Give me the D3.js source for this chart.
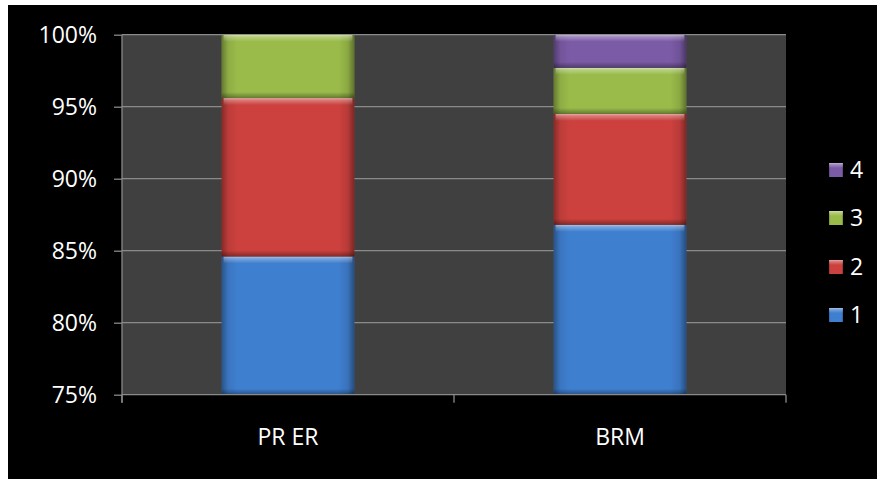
<!DOCTYPE html>
<html>
<head>
<meta charset="utf-8">
<script src="https://cdn.jsdelivr.net/npm/d3@7"></script>
<style>
html,body{margin:0;padding:0;background:#fff;}
svg{display:block;}
text{font-family:"Open Sans","DejaVu Sans",sans-serif;fill:#fff;}
</style>
</head>
<body>
<svg id="chart" width="877" height="479"></svg>
<script>
const categories = ["PR ER", "BRM"];
const seriesNames = ["1", "2", "3", "4"];
const series1 = [0.846, 0.868];
const series2 = [0.110, 0.077];
const series3 = [0.044, 0.032];
const series4 = [0.000, 0.023];
const yTicks = [0.75, 0.80, 0.85, 0.90, 0.95, 1.00];
const colors = ["#3f7fd0", "#cc413e", "#9abb4a", "#7b5ba6"];

const svg = d3.select("#chart");
const W = 877, H = 479;
svg.append("rect").attr("x", 0).attr("y", 0).attr("width", W).attr("height", H).attr("fill", "#fff");
svg.append("rect").attr("x", 8).attr("y", 5).attr("width", W - 8).attr("height", H - 5).attr("fill", "#000");

const plot = {left: 122, right: 786, top: 34.7, bottom: 394.7};

const x = d3.scaleBand().domain(categories).range([plot.left, plot.right]).paddingInner(0.6).paddingOuter(0.3);
const y = d3.scaleLinear().domain([0.75, 1.0]).range([plot.bottom, plot.top]);

const rows = categories.map((c, i) => ({cat: c, "1": series1[i], "2": series2[i], "3": series3[i], "4": series4[i]}));
const stacked = d3.stack().keys(seriesNames)(rows);

const defs = svg.append("defs");
defs.append("clipPath").attr("id", "plotclip").append("rect")
  .attr("x", plot.left).attr("y", plot.top).attr("width", plot.right - plot.left).attr("height", plot.bottom - plot.top);

const hg = defs.append("linearGradient").attr("id", "hshade").attr("x1", "0").attr("x2", "1").attr("y1", "0").attr("y2", "0");
[[0, 0.35], [0.05, 0.08], [0.12, 0], [0.88, 0], [0.95, 0.1], [1, 0.4]].forEach(([o, a]) =>
  hg.append("stop").attr("offset", o).attr("stop-color", "#000").attr("stop-opacity", a));
const tg = defs.append("linearGradient").attr("id", "tshade").attr("x1", "0").attr("x2", "0").attr("y1", "0").attr("y2", "1");
[[0, 0.55], [0.3, 0.3], [1, 0]].forEach(([o, a]) =>
  tg.append("stop").attr("offset", o).attr("stop-color", "#fff").attr("stop-opacity", a));
const bg = defs.append("linearGradient").attr("id", "bshade").attr("x1", "0").attr("x2", "0").attr("y1", "0").attr("y2", "1");
[[0, 0], [1, 0.35]].forEach(([o, a]) =>
  bg.append("stop").attr("offset", o).attr("stop-color", "#000").attr("stop-opacity", a));

svg.append("rect").attr("x", plot.left).attr("y", plot.top).attr("width", plot.right - plot.left).attr("height", plot.bottom - plot.top).attr("fill", "#404040");

svg.append("g").selectAll("line").data(yTicks.filter(t => t > 0.75)).join("line")
  .attr("x1", plot.left).attr("x2", plot.right)
  .attr("y1", d => y(d)).attr("y2", d => y(d))
  .attr("stroke", "#8a8a8a").attr("stroke-width", 1.3);

const barsG = svg.append("g").attr("clip-path", "url(#plotclip)");
stacked.forEach((s, si) => {
  const g = barsG.append("g");
  s.forEach(d => {
    const y0 = y(Math.max(d[0], 0.75)), y1 = y(d[1]);
    const h = y0 - y1;
    if (h <= 0.01) return;
    const bx = x(d.data.cat), bw = x.bandwidth();
    g.append("rect").attr("x", bx).attr("y", y1).attr("width", bw).attr("height", h).attr("fill", colors[si]);
    g.append("rect").attr("x", bx).attr("y", y1).attr("width", bw).attr("height", h).attr("fill", "url(#hshade)");
    const th = Math.min(7, h / 2);
    g.append("rect").attr("x", bx + 2).attr("y", y1).attr("width", bw - 4).attr("height", th).attr("fill", "url(#tshade)");
    const bh = Math.min(6, h / 3);
    g.append("rect").attr("x", bx).attr("y", y0 - bh).attr("width", bw).attr("height", bh).attr("fill", "url(#bshade)");
  });
});

const yAxis = d3.axisLeft(y).tickValues(yTicks).tickFormat(d3.format(".0%")).tickSize(8).tickPadding(17);
const yg = svg.append("g").attr("transform", `translate(${plot.left},0)`).call(yAxis);
yg.select(".domain").remove();
yg.selectAll(".tick line").attr("stroke", "#8a8a8a").attr("stroke-width", 1.3);
yg.selectAll(".tick text").attr("fill", "#fff").style("font-size", "23px").style("font-family", "'Open Sans', sans-serif").attr("dy", "0.36em");
svg.append("line").attr("x1", plot.left).attr("x2", plot.left).attr("y1", plot.top).attr("y2", plot.bottom + 8)
  .attr("stroke", "#8a8a8a").attr("stroke-width", 1.3);

svg.append("line").attr("x1", plot.left).attr("x2", plot.right).attr("y1", plot.bottom).attr("y2", plot.bottom)
  .attr("stroke", "#8a8a8a").attr("stroke-width", 1.3);
const boundaries = [plot.left].concat(categories.map(c => x(c) + x.bandwidth() / 2 + x.step() / 2));
svg.append("g").selectAll("line").data(boundaries).join("line")
  .attr("x1", d => d).attr("x2", d => d).attr("y1", plot.bottom).attr("y2", plot.bottom + 8)
  .attr("stroke", "#8a8a8a").attr("stroke-width", 1.3);
svg.append("g").selectAll("text").data(categories).join("text")
  .attr("x", d => x(d) + x.bandwidth() / 2).attr("y", 445)
  .attr("text-anchor", "middle").style("font-size", "23px").text(d => d);

const legendY = [315, 267, 218, 170];
const lg = svg.append("g");
seriesNames.forEach((n, i) => {
  const cy = legendY[i];
  lg.append("rect").attr("x", 829).attr("y", cy - 7).attr("width", 14).attr("height", 14).attr("fill", colors[i]);
  lg.append("rect").attr("x", 829).attr("y", cy - 7).attr("width", 14).attr("height", 14).attr("fill", "url(#hshade)");
  lg.append("rect").attr("x", 829).attr("y", cy - 7).attr("width", 14).attr("height", 5).attr("fill", "url(#tshade)");
  lg.append("text").attr("x", 850).attr("y", cy).attr("dy", "0.36em").style("font-size", "23px").text(n);
});
</script>
</body>
</html>
